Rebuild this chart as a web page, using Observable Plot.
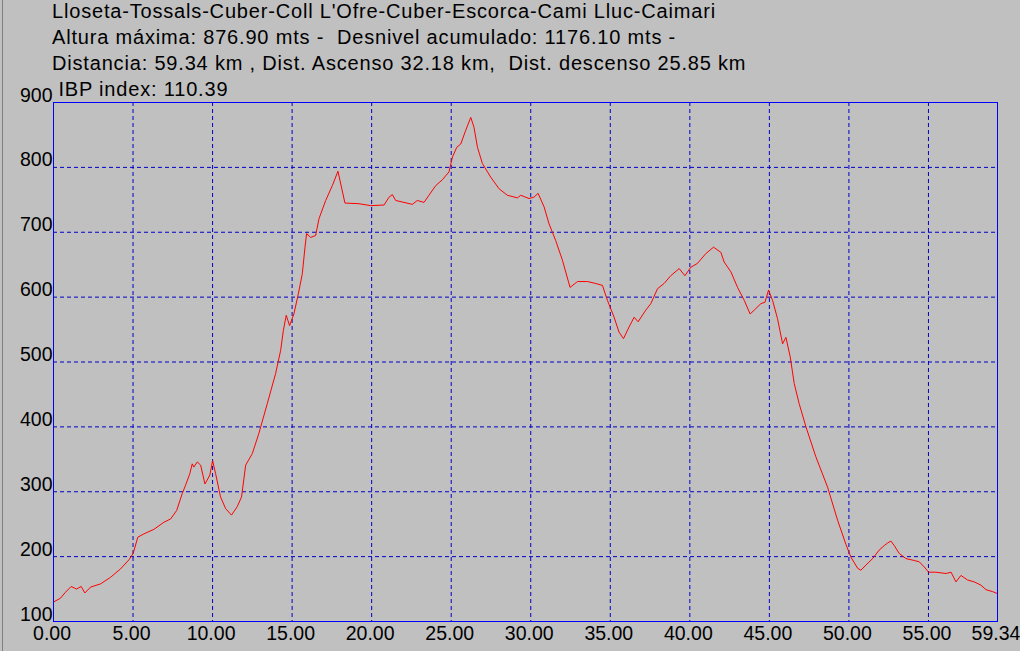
<!DOCTYPE html>
<html>
<head>
<meta charset="utf-8">
<script src="https://cdn.jsdelivr.net/npm/d3@7"></script>
<script src="https://cdn.jsdelivr.net/npm/@observablehq/plot@0.6"></script>
<style>
  html, body { margin: 0; padding: 0; background: #c0c0c0; width: 1020px; height: 651px; overflow: hidden; }
  #wrap { position: relative; width: 1020px; height: 651px; }
  #title { position: absolute; left: 52px; top: -2px; font-family: Arial, "Liberation Sans", sans-serif;
           font-size: 20px; letter-spacing: 0.82px; line-height: 26px; color: #000; white-space: pre; z-index: 2; }
  #edge { position: absolute; left: 2px; top: 0; width: 1px; height: 651px; background: #808080; }
  svg { display: block; }
</style>
</head>
<body>
<div id="wrap">
  <div id="edge"></div>
  <div id="title"></div>
  <div id="chart"></div>
</div>
<script>
const titleLines = [
  "Lloseta-Tossals-Cuber-Coll L'Ofre-Cuber-Escorca-Cami Lluc-Caimari",
  "Altura máxima: 876.90 mts -  Desnivel acumulado: 1176.10 mts -",
  "Distancia: 59.34 km , Dist. Ascenso 32.18 km,  Dist. descenso 25.85 km",
  " IBP index: 110.39"
];

const km = [0, 0.44, 0.75, 1.11, 1.45, 1.74, 1.97, 2.33, 2.96, 3.58, 4.21, 4.74, 5.01, 5.30, 5.68, 6.31, 6.94, 7.36, 7.74, 8.09, 8.30, 8.57, 8.72, 8.82, 9.04, 9.25, 9.52, 9.66, 9.83, 10.0, 10.19, 10.5, 10.82, 11.19, 11.55, 11.82, 12.08, 12.5, 12.91, 13.44, 13.96, 14.28, 14.45, 14.63, 14.84, 15.11, 15.39, 15.64, 15.81, 15.91, 16.16, 16.48, 16.69, 17.11, 17.53, 17.88, 18.32, 19.2, 19.94, 20.78, 21.09, 21.3, 21.51, 22.03, 22.56, 22.87, 23.29, 23.6, 24.03, 24.45, 24.86, 25.08, 25.35, 25.6, 25.91, 26.23, 26.43, 26.65, 26.96, 27.48, 28.01, 28.53, 29.16, 29.37, 29.89, 30.2, 30.46, 30.84, 31.15, 31.57, 31.99, 32.47, 32.94, 33.57, 34.09, 34.51, 34.82, 35.24, 35.55, 35.83, 36.18, 36.5, 36.75, 37.23, 37.55, 37.97, 38.38, 38.8, 39.33, 39.69, 40.06, 40.48, 41.0, 41.49, 41.95, 42.16, 42.58, 43.0, 43.42, 43.79, 44.05, 44.47, 44.72, 44.95, 45.2, 45.51, 45.83, 46.04, 46.31, 46.56, 46.87, 47.3, 47.92, 48.66, 49.29, 49.81, 50.13, 50.55, 50.75, 51.07, 51.49, 51.9, 52.22, 52.43, 52.64, 52.85, 53.16, 53.58, 54.11, 54.42, 54.74, 55.01, 55.47, 56.1, 56.42, 56.73, 57.04, 57.46, 57.88, 58.3, 58.62, 59.04, 59.34];
const elev = [130, 136, 145, 154, 150, 154, 144, 153, 158, 168, 181, 195, 205, 230, 235, 242, 253, 258, 271, 297, 310, 328, 343, 338, 346, 341, 312, 318, 326, 348, 328, 292, 274, 264, 277, 292, 341, 359, 390, 436, 482, 518, 549, 572, 556, 574, 605, 636, 677, 698, 692, 695, 721, 749, 772, 794, 745, 744, 741, 742, 754, 758, 749, 746, 743, 749, 746, 757, 772, 781, 793, 816, 831, 836, 857, 877, 862, 831, 806, 785, 767, 757, 753, 757, 752, 754, 760, 739, 713, 687, 657, 615, 624, 624, 621, 618, 595, 569, 546, 536, 554, 569, 562, 580, 590, 613, 621, 633, 644, 633, 646, 652, 667, 677, 669, 654, 639, 615, 595, 574, 580, 590, 592, 611, 595, 567, 528, 538, 508, 467, 436, 400, 354, 307, 256, 219, 199, 182, 179, 187, 197, 210, 217, 221, 224, 217, 205, 197, 194, 192, 184, 176, 176, 174, 176, 161, 171, 164, 161, 156, 149, 146, 143];

const xTicks = [0, 5, 10, 15, 20, 25, 30, 35, 40, 45, 50, 55, 59.34];
const xGrid = [5, 10, 15, 20, 25, 30, 35, 40, 45, 50, 55];
const yTicks = [100, 200, 300, 400, 500, 600, 700, 800, 900];
const yGrid = [200, 300, 400, 500, 600, 700, 800];

document.getElementById("title").textContent = titleLines.join("\n");

const profile = km.map((d, i) => ({km: d, elev: elev[i]}));

const chart = Plot.plot({
  width: 1020,
  height: 651,
  marginLeft: 53,
  marginRight: 23,
  marginTop: 102,
  marginBottom: 30,
  style: {background: "#c0c0c0", fontFamily: "Arial, 'Liberation Sans', sans-serif", fontSize: "19.5px", overflow: "visible"},
  x: {domain: [0, 59.34], axis: null},
  y: {domain: [100, 900], axis: null},
  marks: [
    Plot.ruleX(xGrid, {x: d => d, stroke: "#0000c8", strokeWidth: 1, strokeDasharray: "4,3"}),
    Plot.ruleY(yGrid, {y: d => d, stroke: "#0000c8", strokeWidth: 1, strokeDasharray: "4,3"}),
    Plot.line(profile, {x: "km", y: "elev", stroke: "#ff0000", strokeWidth: 1}),
    Plot.frame({stroke: "#0000ff", strokeWidth: 1}),
    Plot.text(xTicks, {x: d => d, frameAnchor: "bottom", lineAnchor: "top", dy: 5, dx: -1.5,
      text: d => d.toFixed(2), fill: "#000", fontSize: 19.5}),
    Plot.text(yTicks, {y: d => d, frameAnchor: "left", textAnchor: "end", lineAnchor: "bottom", dx: -1, dy: -1,
      text: d => String(d), fill: "#000", fontSize: 19.5})
  ]
});
document.getElementById("chart").appendChild(chart);
</script>
</body>
</html>
